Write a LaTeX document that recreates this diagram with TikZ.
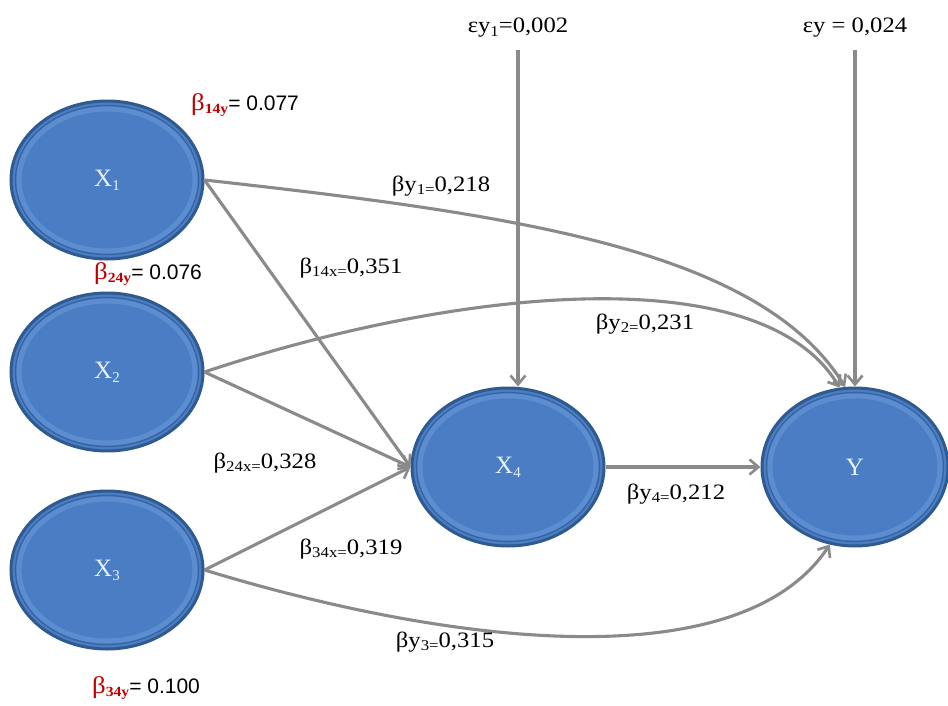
\documentclass[tikz,border=0pt]{standalone}
\usepackage{fontspec}
\setmainfont{Liberation Serif}
\newfontfamily\labf[FakeStretch=1.12]{Liberation Serif}
\newfontfamily\arf{Liberation Sans}
\usetikzlibrary{arrows.meta,shapes.geometric}
\definecolor{edgec}{HTML}{8A8A8A}
\definecolor{bfill}{HTML}{4A7DC3}
\definecolor{bdark}{HTML}{2F5A8F}
\definecolor{blight}{HTML}{6394D6}
\definecolor{redl}{HTML}{C00000}
\definecolor{xtext}{HTML}{E4F2FF}
\newcommand\lsub[1]{\raisebox{-0.35ex}{\fontsize{15}{15}\selectfont #1}}
\newcommand\rbeta[1]{{\color{redl}\labf\fontsize{24}{24}\selectfont β\raisebox{-0.35ex}{\fontsize{14}{14}\selectfont\bfseries #1}}}
\newcommand\blk[1]{{\arf\fontsize{21}{21}\selectfont #1}}
\begin{document}
\begin{tikzpicture}[x=1pt,y=-1pt,
  latent/.style={ellipse, draw=bdark, line width=3pt, fill=bfill,
    minimum width=192pt, minimum height=158pt, inner sep=0pt, text=xtext,
    font=\fontsize{25}{25}\selectfont,
    path picture={\draw[blight, line width=5pt, opacity=0.7]
      (path picture bounding box.center) ellipse [x radius=#1, y radius=71pt];
      \draw[bdark!70!bfill, line width=1.2pt]
      (path picture bounding box.center) ellipse [x radius=#1+3.5pt, y radius=74.5pt];}},
  latent/.default=88pt,
  pathc/.style={draw=edgec, line width=3.1pt, -{Straight Barb[length=9pt,width=15pt,line width=2.6pt]}},
  lbl/.style={font=\labf\fontsize{22}{22}\selectfont, inner sep=1pt}]
\useasboundingbox (0,0) rectangle (948,706);
\fill[white] (0,0) rectangle (948,706);

% latent variables
\node[latent] (X1) at (107,180) {X\lsub{1}};
\node[latent] (X2) at (107,372) {X\lsub{2}};
\node[latent] (X3) at (107,570) {X\lsub{3}};
\node[latent] (X4) at (508,467) {X\lsub{4}};
\node[latent=85pt, minimum width=186pt] (Y) at (855,467) {Y};

% error terms
\node[lbl] (e1) at (518,28) {εy\lsub{1}=0,002};
\node[lbl] (e2) at (855,28) {εy = 0,024};
\coordinate (e1s) at (518,50);
\coordinate (e2s) at (855,50);

% paths
\draw[pathc] (e1s) -- (e1s |- X4.north);
\draw[pathc] (e2s) -- (Y.north);
\draw[pathc] (X1.east) -- (X4.west);
\draw[pathc] (X2.east) -- (X4.west);
\draw[pathc] (X3.east) -- (X4.west);
\draw[pathc] (X4.east) -- (Y.west);
\draw[pathc] (X1.east) .. controls (520,215) and (760,250) .. (Y.97);
\draw[pathc] (X2.east) .. controls (450,290) and (760,255) .. (Y.101);
\draw[pathc] (X3.east) .. controls (450,645) and (740,680) .. (Y.252);

% coefficients
\node[lbl] (c14y) at (245,105) {\rbeta{14y}\blk{= 0.077}};
\node[lbl] (c24y) at (148,274) {\rbeta{24y}\blk{= 0.076}};
\node[lbl] (c34y) at (146,688) {\rbeta{34y}\blk{= 0.100}};
\node[lbl] (cy1) at (441,186) {βy\lsub{1=}0,218};
\node[lbl] (c14x) at (351,268) {β\lsub{14x=}0,351};
\node[lbl] (cy2) at (645,324) {βy\lsub{2=}0,231};
\node[lbl] (c24x) at (265,463) {β\lsub{24x=}0,328};
\node[lbl] (cy4) at (676,494) {βy\lsub{4=}0,212};
\node[lbl] (c34x) at (351,549) {β\lsub{34x=}0,319};
\node[lbl] (cy3) at (445,642) {βy\lsub{3=}0,315};
\end{tikzpicture}
\end{document}
